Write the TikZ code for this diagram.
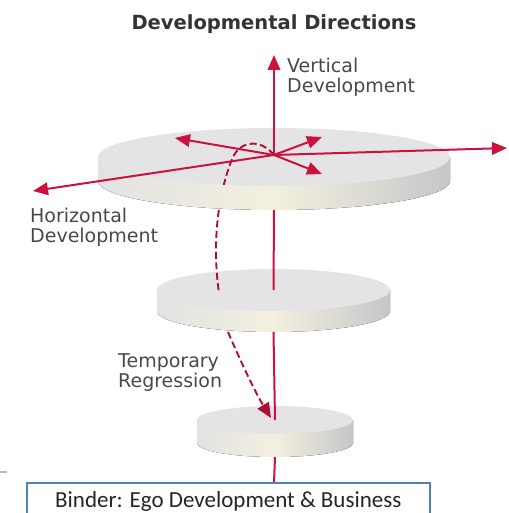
\documentclass[tikz,border=0pt]{standalone}
\usepackage{fontspec}
\setmainfont{DejaVu Sans}
\newfontfamily\binderfont{Carlito}
\usetikzlibrary{arrows.meta}

\definecolor{devred}{RGB}{204,18,60}
\definecolor{diskface}{RGB}{228,228,230}
\definecolor{sideleft}{RGB}{226,226,226}
\definecolor{sidemid}{RGB}{243,240,222}
\definecolor{sideright}{RGB}{198,198,201}
\definecolor{lblgray}{RGB}{72,72,72}
\definecolor{binderblue}{RGB}{79,129,189}

% disk: name, cx, cy, x radius, y radius, thickness
\newcommand{\devdisk}[6]{%
  \fill[left color=sideleft,right color=sideright,middle color=sidemid]
    (#2-#4,#3) -- (#2-#4,#3+#6) arc[start angle=180,end angle=0,x radius=#4,y radius=#5] -- (#2+#4,#3) -- cycle;
  \fill[diskface] (#2,#3) ellipse[x radius=#4,y radius=#5];
  \coordinate (#1c) at (#2,#3);
  \coordinate (#1b) at (#2,#3+#6+#5);
}

\begin{document}
\begin{tikzpicture}[x=1pt,y=-1pt,
	devarrow/.style={devred, line width=2pt, -{Triangle[length=15pt,width=12.5pt]}},
	devline/.style={devred, line width=2pt},
	regress/.style={devred!85!black, line width=1.9pt, dash pattern=on 7pt off 3.5pt},
	lbl/.style={text=lblgray, font=\fontsize{19}{20}\selectfont, inner sep=0pt, align=left}
	]
	\useasboundingbox (0,0) rectangle (508,513);
	\clip (0,0) rectangle (508,513);

	% the three levels
	\devdisk{dthree}{275}{420}{78}{14}{23}
	\devdisk{dtwo}{273.5}{290}{116.5}{21}{21}

	\coordinate (c) at (274,155);		% centre of the top level
	\coordinate (rA) at (219,293);
	\coordinate (rB) at (228,332);
	\coordinate (rtip) at (271,418);

	% regression path, first part (behind the top disk)
	\draw[regress] (c) .. controls (262,140) and (242,139) .. (233,157) .. controls (223,180) and (210,230) .. (rA);

	\devdisk{done}{274}{157}{176}{29}{24}

	% same path again, where it lies on the top face
	\begin{scope}
	\clip (donec) ellipse[x radius=176,y radius=29];
	\draw[regress] (c) .. controls (262,140) and (242,139) .. (233,157) .. controls (223,180) and (210,230) .. (rA);
	\end{scope}

	% vertical axis between the levels
	\coordinate (boxtop) at (274,483);
	\draw[devline] (doneb) -- (dtwoc);
	\draw[devline] (dtwob) -- (dthreec);
	\draw[devline] (dthreeb) -- (boxtop);

	% regression path, second part
	\draw[regress, -{Triangle[length=15pt,width=13pt]}] (rB) .. controls (240,360) and (255,392) .. (rtip);

	% directions
	\coordinate (up) at (274,55);
	\coordinate (east) at (507,148);
	\coordinate (west) at (33,191);
	\coordinate (nw) at (175,138);
	\coordinate (ne) at (322,137);
	\coordinate (se) at (322,174);
	\draw[devarrow] (c) -- (up);
	\draw[devarrow] (c) -- (east);
	\draw[devarrow] (c) -- (west);
	\draw[devarrow] (c) -- (nw);
	\draw[devarrow] (c) -- (ne);
	\draw[devarrow] (c) -- (se);

	% labels
	\node[text=black!80, font=\bfseries\fontsize{19.5}{20}\selectfont, anchor=base] (title) at (274,30) {Developmental Directions};
	\node[lbl, anchor=north west] (vert) at (287,58) {Vertical\\Development};
	\node[lbl, anchor=north west] (horiz) at (30,208) {Horizontal\\Development};
	\node[lbl, anchor=north west] (temp) at (118,353) {Temporary\\Regression};

	% caption box, cut off at the bottom
	\draw[gray!55, line width=2.5pt] (0,472) -- (7,472);
	\draw[binderblue, line width=2.8pt, fill=white] (27,483) rectangle (430,540);
	\node[text=black!85, font=\binderfont\fontsize{23}{24}\selectfont, anchor=base west, inner sep=0pt] (binder) at (55,507) {Binder: Ego Development \& Business};
\end{tikzpicture}
\end{document}
